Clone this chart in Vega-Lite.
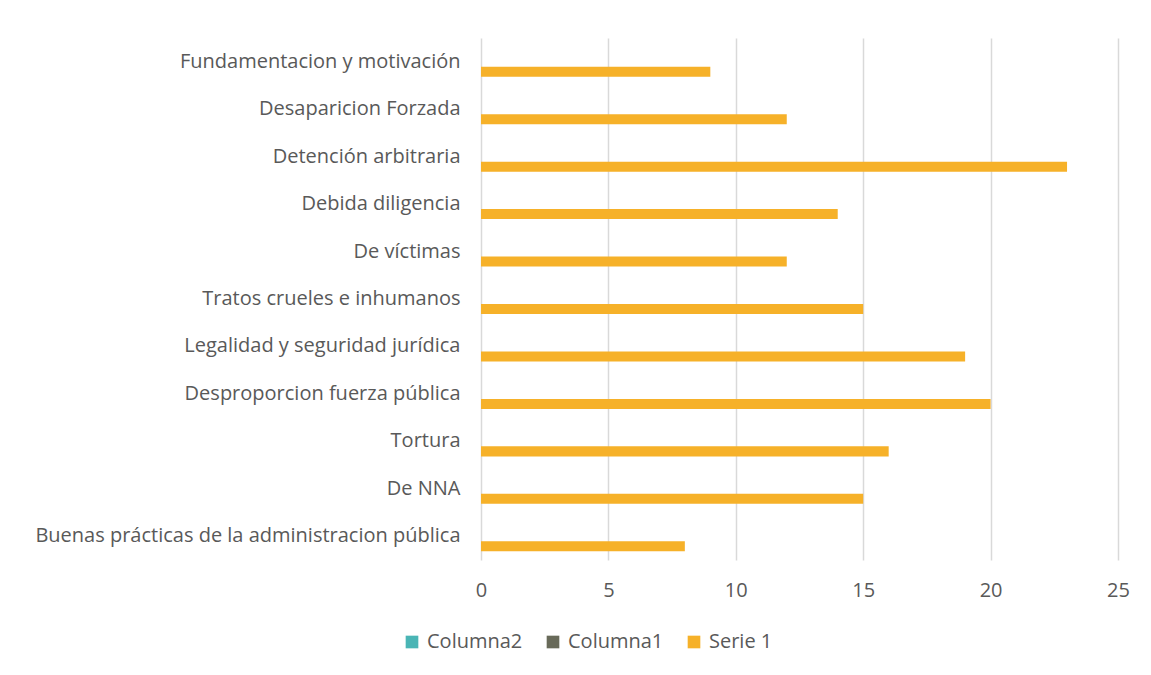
{
  "$schema": "https://vega.github.io/schema/vega-lite/v6.json",
  "autosize": {"type": "none"},
  "padding": {"left": 481, "top": 38, "right": 33, "bottom": 115},
  "width": 637,
  "height": 522,
  "background": "white",
  "config": {
    "view": {"stroke": null},
    "font": "Open Sans",
    "axis": {"labelFont": "Open Sans", "labelColor": "#595959", "labelFontSize": 20}
  },
  "data": {
    "values": [
      {"categoria": "Fundamentacion y motivación", "serie": "Serie 1", "valor": 9},
      {"categoria": "Desaparicion Forzada", "serie": "Serie 1", "valor": 12},
      {"categoria": "Detención arbitraria", "serie": "Serie 1", "valor": 23},
      {"categoria": "Debida diligencia", "serie": "Serie 1", "valor": 14},
      {"categoria": "De víctimas", "serie": "Serie 1", "valor": 12},
      {"categoria": "Tratos crueles e inhumanos", "serie": "Serie 1", "valor": 15},
      {"categoria": "Legalidad y seguridad jurídica", "serie": "Serie 1", "valor": 19},
      {"categoria": "Desproporcion fuerza pública", "serie": "Serie 1", "valor": 20},
      {"categoria": "Tortura", "serie": "Serie 1", "valor": 16},
      {"categoria": "De NNA", "serie": "Serie 1", "valor": 15},
      {"categoria": "Buenas prácticas de la administracion pública", "serie": "Serie 1", "valor": 8}
    ]
  },
  "mark": {"type": "bar"},
  "encoding": {
    "y": {
      "field": "categoria",
      "type": "nominal",
      "sort": null,
      "scale": {"paddingInner": 0, "paddingOuter": 0},
      "axis": {"title": null, "ticks": false, "domain": false, "labelPadding": 21, "labelLimit": 0, "grid": false}
    },
    "yOffset": {
      "field": "serie",
      "type": "nominal",
      "scale": {"domain": ["Columna2", "Columna1", "Serie 1"], "paddingInner": 0, "paddingOuter": 0.87}
    },
    "x": {
      "field": "valor",
      "type": "quantitative",
      "scale": {"domain": [0, 25], "nice": false},
      "axis": {"title": null, "values": [0, 5, 10, 15, 20, 25], "ticks": false, "domain": false, "labelPadding": 20, "labelFlush": false, "grid": true, "gridColor": "#D9D9D9", "gridWidth": 1.5}
    },
    "color": {
      "field": "serie",
      "type": "nominal",
      "scale": {"domain": ["Columna2", "Columna1", "Serie 1"], "range": ["#4AB5B5", "#686A59", "#F6B129"]},
      "legend": {
        "title": null,
        "orient": "none",
        "direction": "horizontal",
        "legendX": -79,
        "legendY": 594,
        "symbolType": "square",
        "symbolSize": 160,
        "symbolStrokeWidth": 0,
        "labelFont": "Open Sans",
        "labelFontSize": 20,
        "labelColor": "#595959",
        "labelOffset": 5,
        "columnPadding": 20
      }
    }
  }
}
